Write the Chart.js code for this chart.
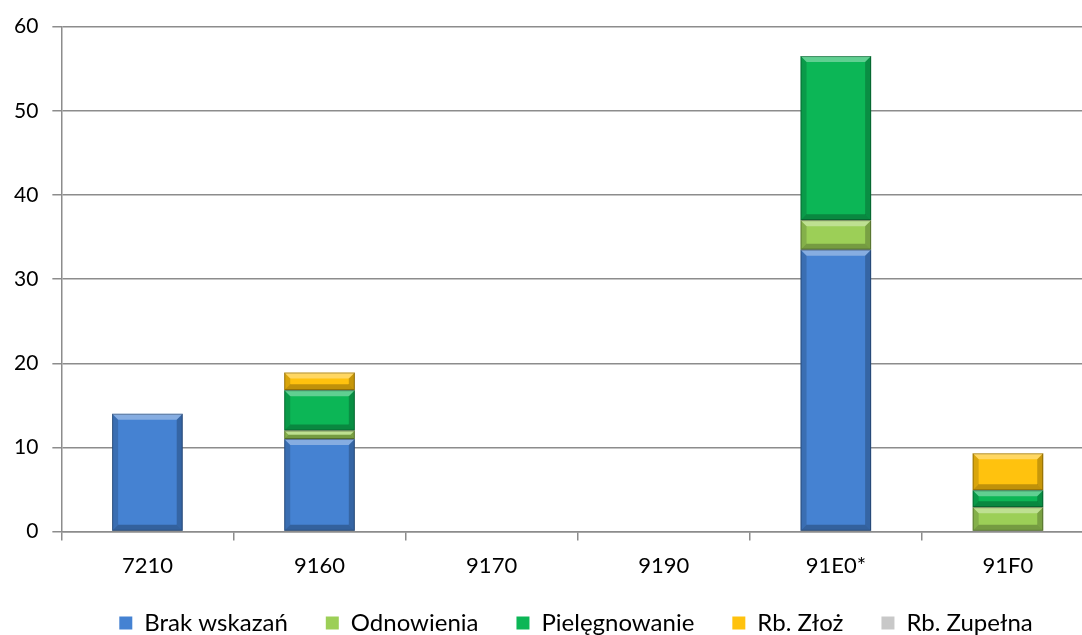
<!DOCTYPE html>
<html>
<head>
<meta charset="utf-8">
<script src="https://cdn.jsdelivr.net/npm/chart.js@4"></script>
<style>
  html, body { margin: 0; padding: 0; background: #fff; overflow: hidden; }
  #wrap { width: 1096px; height: 635px; }
</style>
</head>
<body>
<div id="wrap"><canvas id="chart"></canvas></div>
<script>
// kategorie siedlisk
const kategorie = ['7210', '9160', '9170', '9190', '91E0*', '91F0'];

// wartości dla poszczególnych zabiegów
const brakWskazan   = [14, 11, 0, 0, 33.5, 0];
const odnowienia    = [0, 1, 0, 0, 3.5, 2.9];
const pielegnowanie = [0, 4.8, 0, 0, 19.5, 2.0];
const rbZloz        = [0, 2.1, 0, 0, 0, 4.4];
const rbZupelna     = [0, 0, 0, 0, 0, 0];

const yTicks = [0, 10, 20, 30, 40, 50, 60];

const kolory = {
  brak: '#4582d2',
  odn: '#9ccf57',
  piel: '#0cb656',
  zloz: '#ffc20e',
  zup: '#c8c8c8'
};

const czcionka = 'Lato, "Open Sans", sans-serif';

// efekt "fazowania" słupków
const bevelPlugin = {
  id: 'bevel',
  afterDatasetsDraw(chart) {
    const ctx = chart.ctx;
    chart.data.datasets.forEach((ds, i) => {
      const meta = chart.getDatasetMeta(i);
      if (meta.hidden) return;
      meta.data.forEach(bar => {
        const p = bar.getProps(['x', 'y', 'base', 'width'], true);
        const l = p.x - p.width / 2, r = p.x + p.width / 2;
        const t = Math.min(p.y, p.base), b = Math.max(p.y, p.base);
        const h = b - t;
        if (h < 1) return;
        const s = Math.min(6, h / 2);
        ctx.save();
        // góra jaśniejsza
        ctx.fillStyle = 'rgba(255,255,255,0.35)';
        ctx.beginPath();
        ctx.moveTo(l, t); ctx.lineTo(r, t); ctx.lineTo(r - s, t + s); ctx.lineTo(l + s, t + s);
        ctx.closePath(); ctx.fill();
        // dół ciemniejszy
        ctx.fillStyle = 'rgba(0,0,0,0.25)';
        ctx.beginPath();
        ctx.moveTo(l, b); ctx.lineTo(r, b); ctx.lineTo(r - s, b - s); ctx.lineTo(l + s, b - s);
        ctx.closePath(); ctx.fill();
        // boki
        ctx.fillStyle = 'rgba(0,0,0,0.15)';
        ctx.beginPath();
        ctx.moveTo(l, t); ctx.lineTo(l + s, t + s); ctx.lineTo(l + s, b - s); ctx.lineTo(l, b);
        ctx.closePath(); ctx.fill();
        ctx.fillStyle = 'rgba(0,0,0,0.22)';
        ctx.beginPath();
        ctx.moveTo(r, t); ctx.lineTo(r - s, t + s); ctx.lineTo(r - s, b - s); ctx.lineTo(r, b);
        ctx.closePath(); ctx.fill();
        // obrys
        ctx.strokeStyle = 'rgba(0,0,0,0.3)';
        ctx.lineWidth = 1;
        ctx.strokeRect(l + 0.5, t + 0.5, p.width - 1, h - 1);
        ctx.restore();
      });
    });
  }
};

// legenda: mniejsza wysokość w układzie i przesunięcie przy rysowaniu
const legendFix = {
  id: 'legendFix',
  beforeLayout(chart) {
    const lg = chart.legend;
    if (!lg || lg._fitPatched) return;
    const fit = lg.fit;
    lg.fit = function () {
      fit.call(this);
      this.height -= 17;
    };
    lg._fitPatched = true;
  },
  beforeDraw(chart) {
    const lg = chart.legend;
    if (!lg || lg._shifted === lg.left) return;
    lg.left += 29;
    lg.right += 29;
    lg.top -= 18;
    lg._shifted = lg.left;
  }
};

function zestaw(label, data, kolor) {
  return {
    label: label,
    data: data,
    backgroundColor: kolor,
    borderWidth: 0,
    barPercentage: 0.82,
    categoryPercentage: 0.5
  };
}

const ctx = document.getElementById('chart').getContext('2d');
new Chart(ctx, {
  type: 'bar',
  data: {
    labels: kategorie,
    datasets: [
      zestaw('Brak wskazań', brakWskazan, kolory.brak),
      zestaw('Odnowienia', odnowienia, kolory.odn),
      zestaw('Pielęgnowanie', pielegnowanie, kolory.piel),
      zestaw('Rb. Złoż', rbZloz, kolory.zloz),
      zestaw('Rb. Zupełna', rbZupelna, kolory.zup)
    ]
  },
  plugins: [bevelPlugin, legendFix],
  options: {
    responsive: true,
    maintainAspectRatio: false,
    animation: false,
    layout: { padding: { top: 10, right: 2, left: 0, bottom: -11 } },
    plugins: {
      legend: {
        position: 'bottom',
        labels: {
          color: '#000',
          font: { family: czcionka, size: 24 },
          boxWidth: 13,
          boxHeight: 13,
          padding: 38
        }
      },
      tooltip: { enabled: false }
    },
    scales: {
      x: {
        stacked: true,
        offset: true,
        grid: {
          offset: true,
          drawOnChartArea: false,
          color: '#8c8c8c',
          tickLength: 9,
          lineWidth: 1.5
        },
        border: { color: '#8c8c8c', width: 1.5 },
        ticks: {
          color: '#000',
          padding: 12,
          font: { family: czcionka, size: 22 }
        }
      },
      y: {
        stacked: true,
        min: 0,
        max: 60,
        afterBuildTicks(axis) {
          axis.ticks = yTicks.map(v => ({ value: v }));
        },
        grid: {
          color: '#8c8c8c',
          lineWidth: 1.5,
          tickLength: 9
        },
        border: { color: '#8c8c8c', width: 1.5 },
        ticks: {
          color: '#000',
          padding: 14,
          font: { family: czcionka, size: 21 }
        }
      }
    }
  }
});
</script>
</body>
</html>
